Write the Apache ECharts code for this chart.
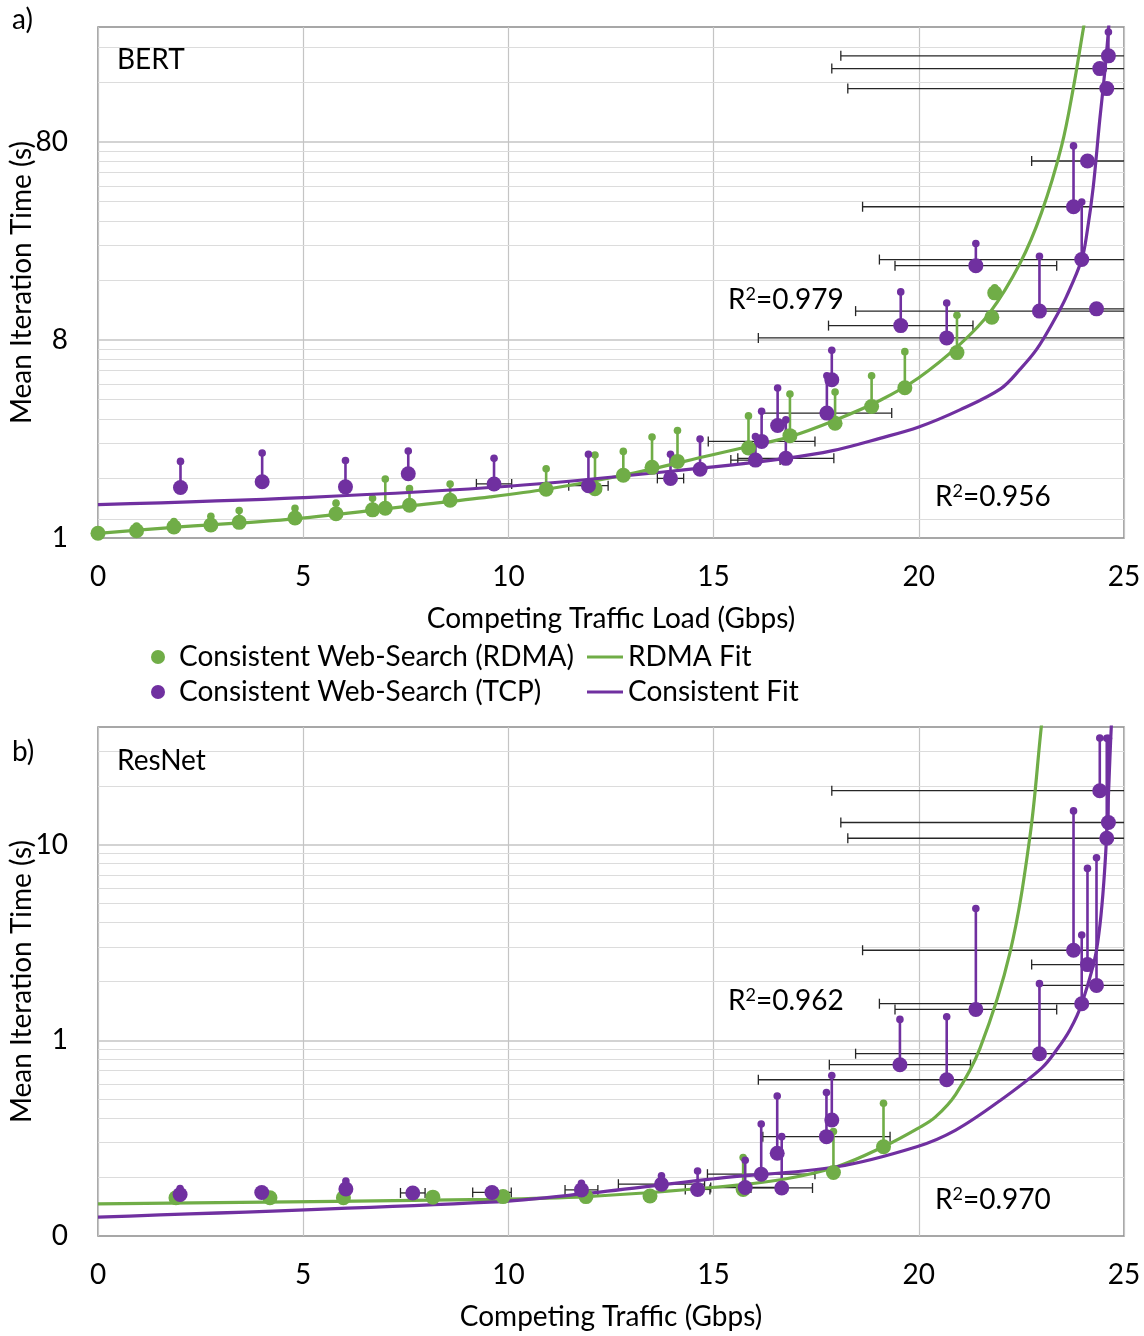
<!DOCTYPE html>
<html><head><meta charset="utf-8">
<script src="https://cdn.jsdelivr.net/npm/echarts@6/dist/echarts.min.js"></script>
<style>html,body{margin:0;padding:0;background:#fff}#c{width:1144px;height:1336px}</style>
</head><body><div id="c"></div><script>
// ---------- data ----------
const xTicks = [0, 5, 10, 15, 20, 25];
const yTicksA = [0.8, 8, 80];          // shown as 1, 8, 80
const yTicksB = [0.1, 1, 10];          // shown as 0, 1, 10
const minorA = [1, 1.6, 2.4, 3.2, 4, 4.8, 5.6, 6.4, 7.2, 16, 24, 32, 40, 48, 56, 64, 72, 160, 240];
const minorB = [0.2, 0.3, 0.4, 0.5, 0.6, 0.7, 0.8, 0.9, 2, 3, 4, 5, 6, 7, 8, 9, 20, 30];

// BERT — RDMA: [load, mean, upper]
const bertRdma = [
  [0, 0.845, 0.845], [0.94, 0.87, 0.92], [1.85, 0.91, 0.97], [2.75, 0.93, 1.03],
  [3.44, 0.96, 1.10], [4.8, 1.01, 1.13], [5.8, 1.06, 1.20], [6.69, 1.11, 1.27],
  [7.0, 1.13, 1.59], [7.59, 1.17, 1.42], [8.58, 1.24, 1.50], [10.92, 1.41, 1.79],
  [12.11, 1.42, 2.10], [12.8, 1.66, 2.19], [13.5, 1.82, 2.59], [14.12, 1.95, 2.79],
  [15.85, 2.28, 3.31], [16.86, 2.63, 4.27], [17.96, 3.04, 4.37], [18.85, 3.69, 5.28],
  [19.66, 4.59, 6.99], [20.93, 6.91, 10.67], [21.78, 10.42, 10.42], [21.85, 13.85, 14.7]
];
// BERT — TCP: [load, mean, upper, load error]
const bertTcp = [
  [2.01, 1.44, 1.95, 0], [4.0, 1.54, 2.15, 0], [6.03, 1.45, 1.97, 0], [7.56, 1.69, 2.20, 0],
  [9.65, 1.50, 2.02, 0.43], [11.95, 1.47, 2.12, 0.48], [13.95, 1.60, 2.12, 0.32],
  [14.67, 1.78, 2.53, 0], [16.02, 1.98, 2.60, 0.6], [16.17, 2.46, 3.49, 1.3],
  [16.76, 2.02, 3.16, 1.17], [16.56, 2.96, 4.58, 0], [17.76, 3.42, 5.28, 1.58],
  [17.88, 5.04, 7.10, 0], [19.56, 9.46, 14.0, 1.76], [20.68, 8.2, 12.3, 4.59],
  [21.39, 19.0, 24.6, 1.97], [22.94, 11.2, 21.2, 4.48], [23.77, 37.7, 76.5, 5.14],
  [23.97, 20.4, 39.8, 4.93], [24.11, 64.2, 64.2, 1.36], [24.33, 11.5, 11.5, 1.39],
  [24.41, 188, 188, 6.53], [24.58, 149, 149, 6.31], [24.62, 218, 288, 6.52]
];
const bertRdmaFit = [
  [0, 0.845], [1.85, 0.906], [4.8, 1.0], [7.59, 1.16], [9.55, 1.29], [10.92, 1.41],
  [12.8, 1.66], [14.95, 2.1], [15.85, 2.32], [16.86, 2.6], [17.96, 3.15], [19.05, 3.96],
  [20, 5.16], [21, 7.6], [21.73, 11.0], [22.47, 19.6], [22.99, 35.2], [23.48, 76.5],
  [23.77, 152], [24.01, 300], [24.1, 380]
];
const bertTcpFit = [
  [0, 1.18], [5, 1.28], [10, 1.46], [15, 1.83], [16.76, 2.02], [17.9, 2.21], [19.05, 2.55],
  [20, 2.91], [21, 3.55], [22, 4.55], [22.47, 5.7], [22.87, 7.17], [23.3, 10.1], [23.6, 13.3],
  [23.97, 20.4], [24.1, 28], [24.25, 47.4], [24.41, 104], [24.54, 188], [24.63, 310], [24.66, 380]
];

// ResNet — RDMA: [load, mean, upper]
const resnetRdma = [
  [1.9, 0.157, 0.157], [4.19, 0.157, 0.157], [5.98, 0.157, 0.157], [8.16, 0.158, 0.158],
  [9.87, 0.159, 0.159], [11.89, 0.159, 0.159], [13.45, 0.16, 0.16], [15.72, 0.173, 0.252],
  [17.92, 0.211, 0.342], [19.14, 0.286, 0.477]
];
// ResNet — TCP: [load, mean, upper, load error]
const resnetTcp = [
  [2.0, 0.163, 0.175, 0], [3.99, 0.167, 0.172, 0], [6.04, 0.174, 0.191, 0],
  [7.67, 0.166, 0.17, 0.3], [9.6, 0.167, 0.17, 0.47], [11.78, 0.172, 0.186, 0.4],
  [13.73, 0.184, 0.203, 1.05], [14.61, 0.173, 0.215, 0.3], [15.77, 0.177, 0.244, 0.84],
  [16.16, 0.207, 0.374, 1.31], [16.66, 0.176, 0.322, 0.75], [16.55, 0.265, 0.52, 0],
  [17.75, 0.322, 0.541, 1.55], [17.88, 0.392, 0.661, 0], [19.54, 0.751, 1.28, 1.72],
  [20.68, 0.629, 1.32, 4.59], [21.39, 1.44, 4.72, 1.97], [22.94, 0.855, 1.95, 4.48],
  [23.77, 2.89, 14.9, 5.14], [23.97, 1.54, 3.46, 4.93], [24.11, 2.44, 7.57, 1.36],
  [24.33, 1.91, 8.58, 1.39], [24.41, 18.9, 35.1, 6.53], [24.58, 10.8, 35.0, 6.31],
  [24.62, 13.0, 35.0, 6.52]
];
const resnetRdmaFit = [
  [0, 0.146], [9.55, 0.154], [11.9, 0.159], [15.1, 0.178], [16.7, 0.195], [18, 0.226],
  [19.14, 0.286], [20, 0.357], [20.4, 0.405], [20.9, 0.53], [21.49, 0.91], [22.22, 2.8],
  [22.71, 11.1], [22.99, 41], [23.05, 50]
];
const resnetTcpFit = [
  [0, 0.125], [9.55, 0.149], [11.9, 0.165], [15.1, 0.197], [18, 0.226], [19.95, 0.286],
  [20.9, 0.348], [22, 0.496], [23, 0.724], [23.36, 0.895], [23.68, 1.13], [23.97, 1.54],
  [24.33, 2.9], [24.53, 7.5], [24.69, 40], [24.72, 50]
];

// ---------- styling ----------
const GREEN = '#70AD47', PURPLE = '#7030A0';
const FONT = 'Lato';
const FS = 28;
const names = {
  rdma: 'Consistent Web-Search (RDMA)', tcp: 'Consistent Web-Search (TCP)',
  rdmaFit: 'RDMA Fit', tcpFit: 'Consistent Fit'
};

function stemRender(color) {
  return function (params, api) {
    const x = api.value(0), y = api.value(1), t = api.value(2);
    if (!(t > y)) return null;
    const p0 = api.coord([x, y]), p1 = api.coord([x, t]);
    return { type: 'group', children: [
      { type: 'line', shape: { x1: p0[0], y1: p0[1], x2: p1[0], y2: p1[1] }, style: { stroke: color, lineWidth: 2.6 } },
      { type: 'circle', shape: { cx: p1[0], cy: p1[1], r: 3.8 }, style: { fill: color } }
    ] };
  };
}
function errRender(params, api) {
  const x = api.value(0), y = api.value(1), e = api.value(3);
  if (!(e > 0)) return null;
  const a = api.coord([x - e, y]), b = api.coord([x + e, y]);
  const st = { stroke: '#262626', lineWidth: 1.3 };
  return { type: 'group', children: [
    { type: 'line', shape: { x1: a[0], y1: a[1], x2: b[0], y2: b[1] }, style: st },
    { type: 'line', shape: { x1: a[0], y1: a[1] - 5, x2: a[0], y2: a[1] + 5 }, style: st },
    { type: 'line', shape: { x1: b[0], y1: b[1] - 5, x2: b[0], y2: b[1] + 5 }, style: st }
  ] };
}
function gridLines(idx, majors, minors) {
  const d = [];
  minors.forEach(v => d.push({ yAxis: v, lineStyle: { color: '#dcdcdc', width: 1.2, type: 'solid' } }));
  majors.slice(1).forEach(v => d.push({ yAxis: v, lineStyle: { color: '#c4c4c4', width: 1.5, type: 'solid' } }));
  return {
    type: 'line', xAxisIndex: idx, yAxisIndex: idx, data: [], z: 1, silent: true,
    markLine: { silent: true, z: 0, symbol: ['none', 'none'], label: { show: false }, animation: false,
      lineStyle: { type: 'solid' }, emphasis: { disabled: true }, data: d }
  };
}
function panelSeries(idx, rdma, tcp, rdmaFit, tcpFit) {
  const base = { xAxisIndex: idx, yAxisIndex: idx };
  return [
    gridLines(idx, idx === 0 ? yTicksA : yTicksB, idx === 0 ? minorA : minorB),
    Object.assign({ type: 'custom', name: 'err' + idx, data: tcp, renderItem: errRender, clip: true, z: 2, encode: { x: 0, y: 1 } }, base),
    Object.assign({ type: 'custom', name: 'stemR' + idx, data: rdma, renderItem: stemRender(GREEN), clip: true, z: 3, encode: { x: 0, y: 1 } }, base),
    Object.assign({ type: 'custom', name: 'stemT' + idx, data: tcp, renderItem: stemRender(PURPLE), clip: true, z: 3, encode: { x: 0, y: 1 } }, base),
    Object.assign({ type: 'line', name: names.rdmaFit, data: rdmaFit, smooth: 0.35, showSymbol: false, symbol: 'none',
      lineStyle: { color: GREEN, width: 3.2 }, itemStyle: { color: GREEN }, clip: true, z: 4 }, base),
    Object.assign({ type: 'line', name: names.tcpFit, data: tcpFit, smooth: 0.35, showSymbol: false, symbol: 'none',
      lineStyle: { color: PURPLE, width: 3.2 }, itemStyle: { color: PURPLE }, clip: true, z: 4 }, base),
    Object.assign({ type: 'scatter', name: names.rdma, data: rdma.map(r => [r[0], r[1]]), symbolSize: 15,
      itemStyle: { color: GREEN, opacity: 1 }, z: 5 }, base),
    Object.assign({ type: 'scatter', name: names.tcp, data: tcp.map(r => [r[0], r[1]]), symbolSize: 15,
      itemStyle: { color: PURPLE, opacity: 1 }, z: 5 }, base)
  ];
}

const txt = { fontFamily: FONT, fontSize: FS, color: '#000' };
function xAxisCfg(idx, name) {
  return {
    type: 'value', gridIndex: idx, min: 0, max: 25, interval: 5,
    axisLine: { show: false }, axisTick: { show: false },
    splitLine: { show: true, lineStyle: { color: '#c4c4c4', width: 1.2 } },
    axisLabel: Object.assign({ margin: 25 }, txt),
    name: name, nameLocation: 'middle', nameGap: 67, nameTextStyle: txt
  };
}
function yAxisCfg(idx, min, max, ticks) {
  return {
    type: 'log', logBase: 10, gridIndex: idx, min: min, max: max,
    axisLine: { show: false }, axisTick: { show: false }, splitLine: { show: false },
    axisLabel: Object.assign({ margin: 30, customValues: ticks, formatter: v => String(Math.round(v)) }, txt),
    name: 'Mean Iteration Time (s)', nameLocation: 'middle', nameRotate: 90, nameGap: 62,
    nameMoveOverlap: false, nameTextStyle: txt
  };
}

function rText(x, y, val) {
  return { type: 'text', x: x, y: y, z: 10, style: {
    text: '{n|R}{s|2}{n|=' + val + '}', verticalAlign: 'middle', fill: '#000',
    rich: { n: { fontFamily: FONT, fontSize: FS, lineHeight: 30 }, s: { fontFamily: FONT, fontSize: 18, verticalAlign: 'top', lineHeight: 30 } }
  } };
}
function pText(x, y, s) {
  return { type: 'text', x: x, y: y, z: 10, style: { text: s, fontFamily: FONT, fontSize: FS, fill: '#000', verticalAlign: 'middle' } };
}

const legendCommon = { orient: 'vertical', top: 642, padding: 0, itemGap: 5, textStyle: Object.assign({ lineHeight: 30 }, txt), selectedMode: false };

const option = {
  animation: false,
  backgroundColor: '#fff',
  grid: [
    { left: 98, top: 27, width: 1026, height: 511, show: true, borderColor: '#8a8a8a', borderWidth: 1.5,
      backgroundColor: 'transparent', containLabel: false, outerBoundsMode: 'none' },
    { left: 98, top: 727, width: 1026, height: 509, show: true, borderColor: '#8a8a8a', borderWidth: 1.5,
      backgroundColor: 'transparent', containLabel: false, outerBoundsMode: 'none' }
  ],
  xAxis: [xAxisCfg(0, 'Competing Traffic Load (Gbps)'), xAxisCfg(1, 'Competing Traffic (Gbps)')],
  yAxis: [yAxisCfg(0, 0.8, 305, yTicksA), yAxisCfg(1, 0.1, 40, yTicksB)],
  legend: [
    Object.assign({ left: 151, data: [names.rdma, names.tcp], icon: 'circle', itemWidth: 32, itemHeight: 14 }, legendCommon),
    Object.assign({ left: 587, data: [names.rdmaFit, names.tcpFit], icon: 'rect', itemWidth: 36, itemHeight: 3 }, legendCommon)
  ],
  graphic: [
    pText(12, 20, 'a)'), pText(12, 752, 'b)'),
    pText(117, 60, 'BERT'), pText(117, 761, 'ResNet'),
    rText(728, 300, '0.979'), rText(935, 497, '0.956'),
    rText(728, 1001, '0.962'), rText(935, 1200, '0.970')
  ],
  series: [].concat(
    panelSeries(0, bertRdma, bertTcp, bertRdmaFit, bertTcpFit),
    panelSeries(1, resnetRdma, resnetTcp, resnetRdmaFit, resnetTcpFit)
  )
};
const chart = echarts.init(document.getElementById('c'), null, { renderer: 'canvas' });
chart.setOption(option);
</script></body></html>
